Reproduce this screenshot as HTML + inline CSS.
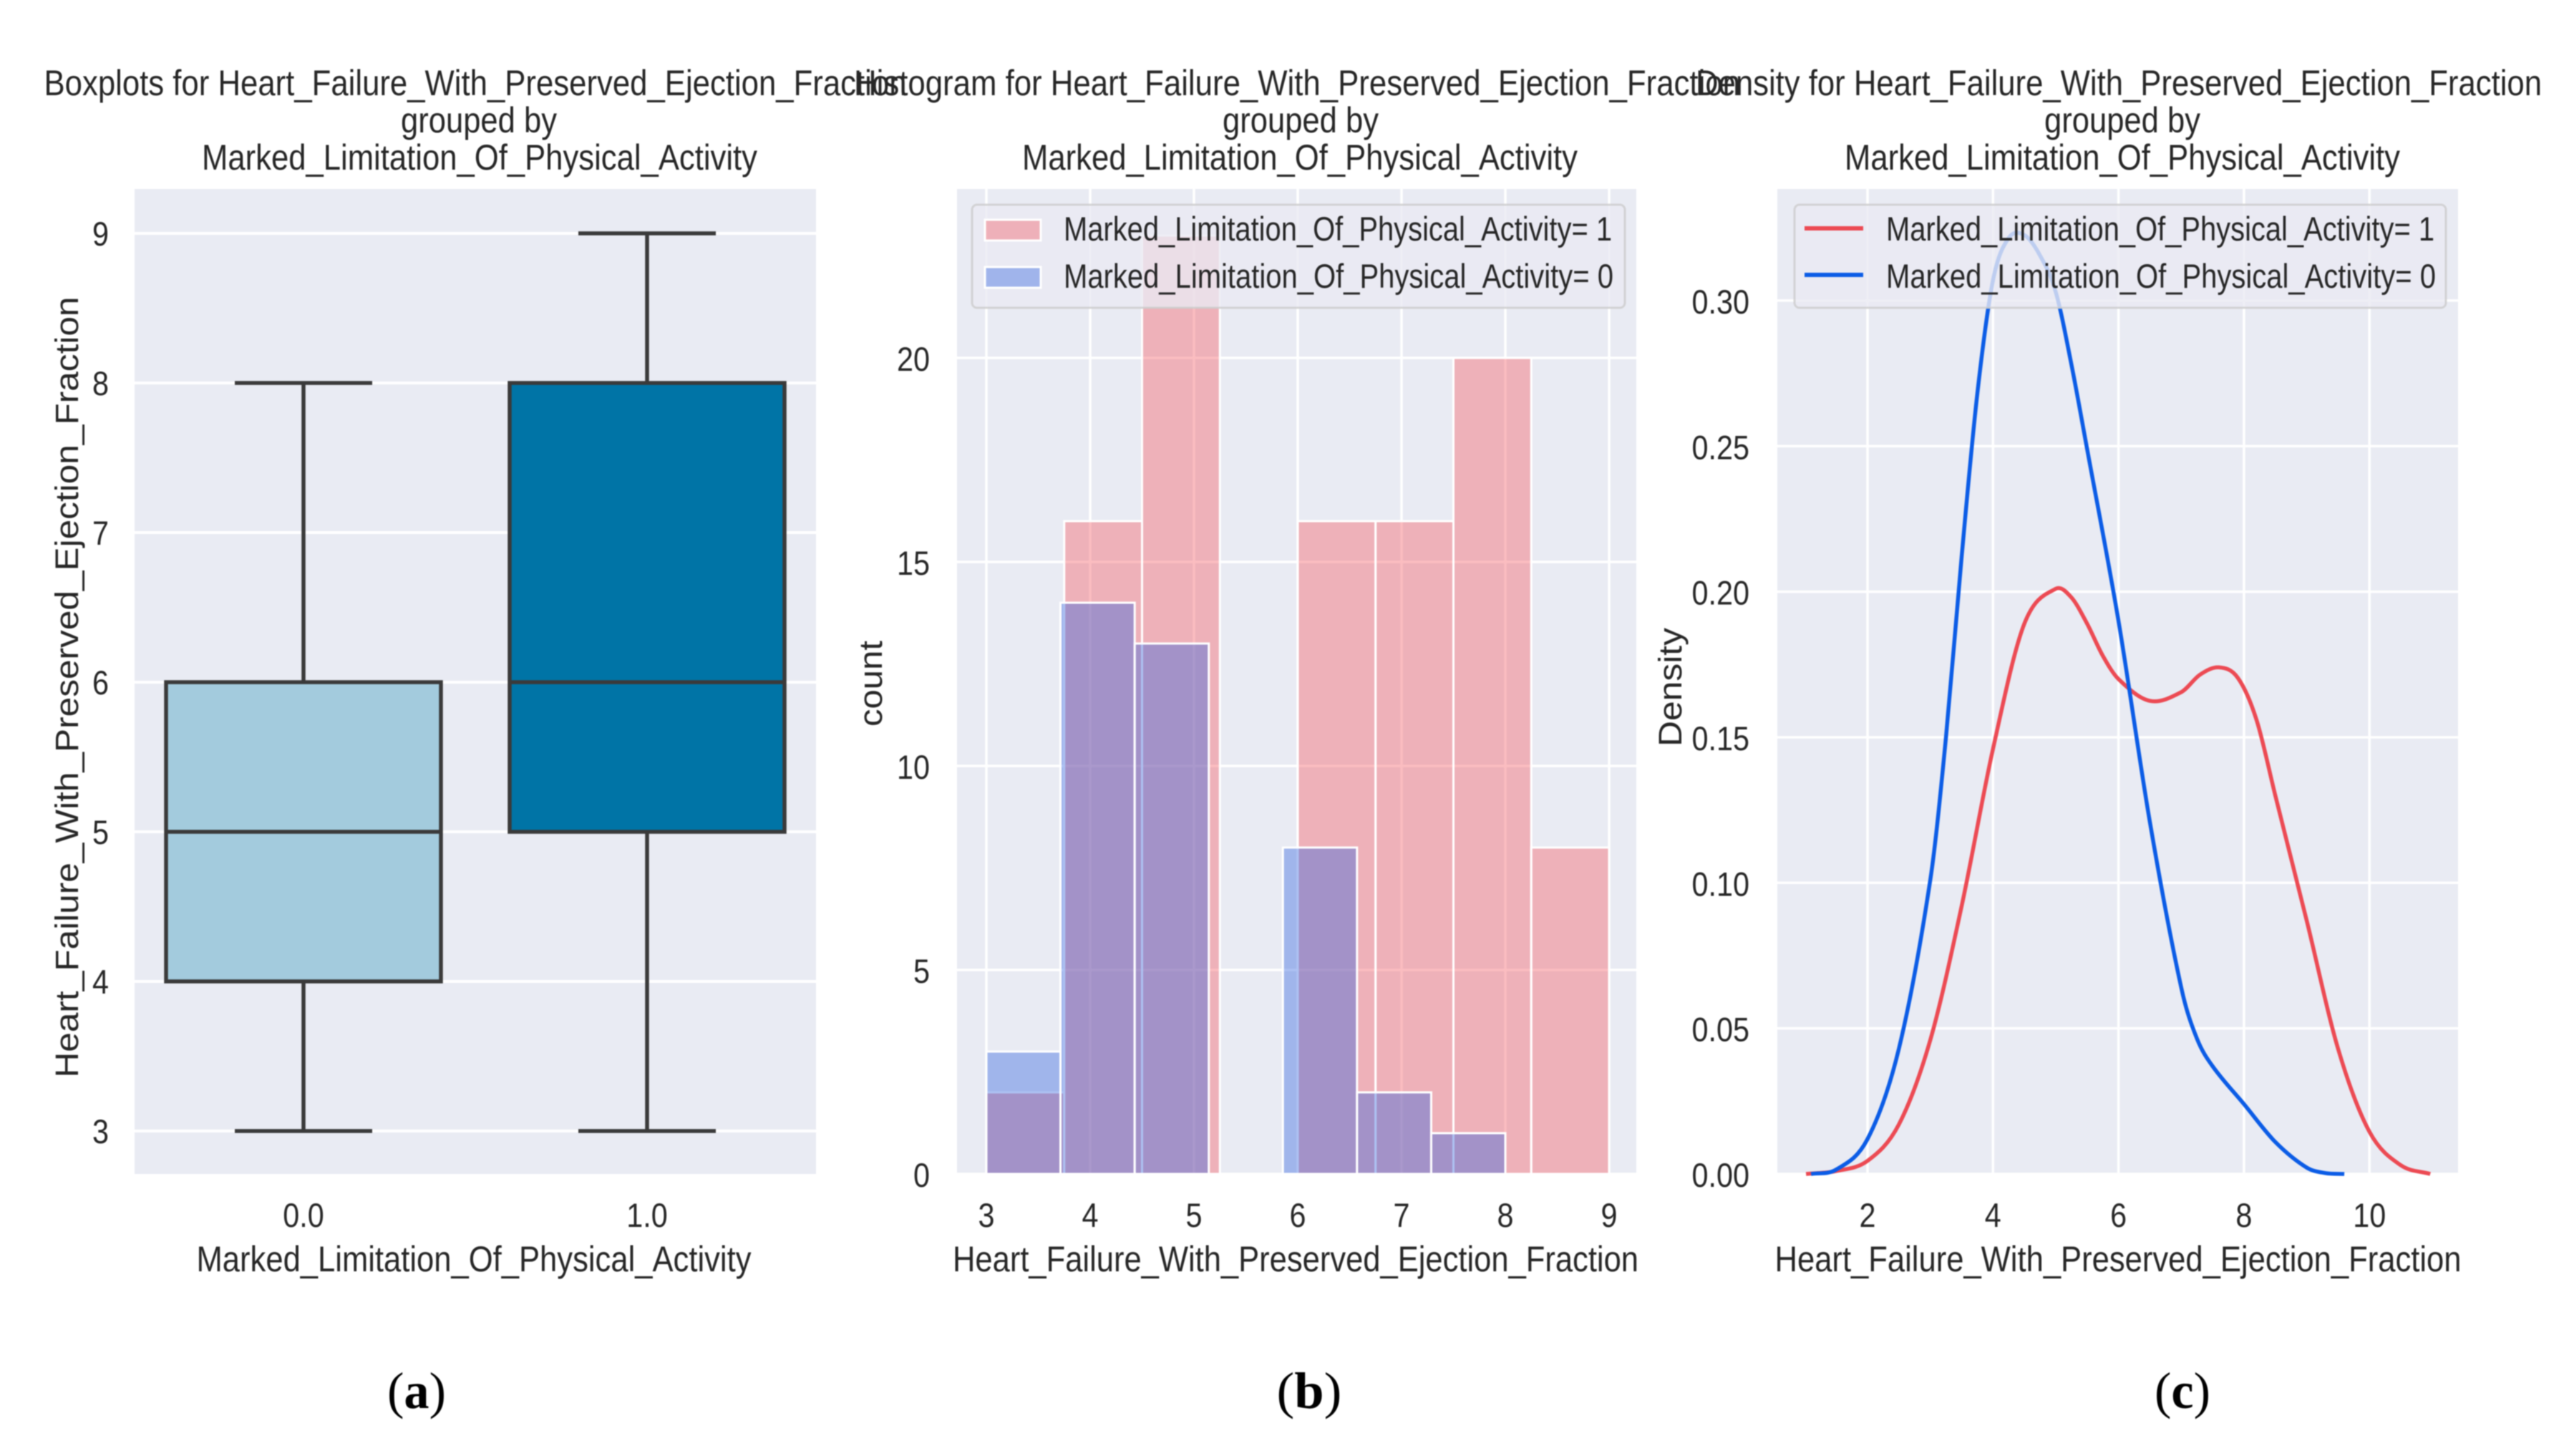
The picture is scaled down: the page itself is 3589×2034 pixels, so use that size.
<!DOCTYPE html>
<html lang="en">
<head>
<meta charset="utf-8">
<title>Heart failure charts grouped by marked limitation of physical activity</title>
<style>
html,body{margin:0;padding:0;background:#fff;width:3589px;height:2034px;overflow:hidden}
svg{display:block;filter:blur(0.8px)}
text{font-family:"Liberation Sans",sans-serif;fill:#262626}
.cap{font-family:"Liberation Serif",serif;fill:#000}
</style>
</head>
<body>
<svg id="figure" xmlns="http://www.w3.org/2000/svg" width="3589" height="2034" viewBox="0 0 3589 2034">
  <rect width="3589" height="2034" fill="#fff"/>

  <g font-size="50" text-anchor="middle">
    <text x="664" y="133" textLength="1205" lengthAdjust="spacingAndGlyphs">Boxplots for Heart_Failure_With_Preserved_Ejection_Fraction</text>
    <text x="669" y="185" textLength="218" lengthAdjust="spacingAndGlyphs">grouped by</text>
    <text x="670" y="237" textLength="776" lengthAdjust="spacingAndGlyphs">Marked_Limitation_Of_Physical_Activity</text>
  </g>
  <g font-size="50" text-anchor="middle">
    <text x="1812" y="133" textLength="1238" lengthAdjust="spacingAndGlyphs">Histogram for Heart_Failure_With_Preserved_Ejection_Fraction</text>
    <text x="1817" y="185" textLength="218" lengthAdjust="spacingAndGlyphs">grouped by</text>
    <text x="1816" y="237" textLength="776" lengthAdjust="spacingAndGlyphs">Marked_Limitation_Of_Physical_Activity</text>
  </g>
  <g font-size="50" text-anchor="middle">
    <text x="2960" y="133" textLength="1182" lengthAdjust="spacingAndGlyphs">Density for Heart_Failure_With_Preserved_Ejection_Fraction</text>
    <text x="2965" y="185" textLength="218" lengthAdjust="spacingAndGlyphs">grouped by</text>
    <text x="2965" y="237" textLength="776" lengthAdjust="spacingAndGlyphs">Marked_Limitation_Of_Physical_Activity</text>
  </g>

  <rect x="188" y="264" width="952" height="1376" fill="#e9ebf3"/>
  <rect x="1337" y="264" width="949" height="1376" fill="#e9ebf3"/>
  <rect x="2483" y="264" width="951" height="1376" fill="#e9ebf3"/>
  <g id="box-layer"></g>
  <g id="hist-layer"></g>
  <g id="density-layer"></g>

  <g>
    <rect x="1358" y="286" width="912" height="144" rx="7" fill="#eaeaf2" fill-opacity="0.8" stroke="#cccccc" stroke-opacity="0.8" stroke-width="3"/>
    <rect x="1376" y="307" width="78" height="29" fill="#f45961" fill-opacity="0.4" stroke="#fff" stroke-width="3"/>
    <rect x="1376" y="373" width="78" height="29" fill="#3264de" fill-opacity="0.4" stroke="#fff" stroke-width="3"/>
    <text x="1486" y="336" font-size="47" textLength="766" lengthAdjust="spacingAndGlyphs">Marked_Limitation_Of_Physical_Activity= 1</text>
    <text x="1486" y="402" font-size="47" textLength="768" lengthAdjust="spacingAndGlyphs">Marked_Limitation_Of_Physical_Activity= 0</text>
  </g>
  <g>
    <rect x="2507" y="286" width="910" height="144" rx="7" fill="#eaeaf2" fill-opacity="0.8" stroke="#cccccc" stroke-opacity="0.8" stroke-width="3"/>
    <line x1="2521" x2="2603" y1="319" y2="319" stroke="#ec4a53" stroke-width="6"/>
    <line x1="2521" x2="2603" y1="384" y2="384" stroke="#0b5ce6" stroke-width="6"/>
    <text x="2635" y="336" font-size="47" textLength="766" lengthAdjust="spacingAndGlyphs">Marked_Limitation_Of_Physical_Activity= 1</text>
    <text x="2635" y="402" font-size="47" textLength="768" lengthAdjust="spacingAndGlyphs">Marked_Limitation_Of_Physical_Activity= 0</text>
  </g>

  <text x="662" y="1776" font-size="50" text-anchor="middle" textLength="775" lengthAdjust="spacingAndGlyphs">Marked_Limitation_Of_Physical_Activity</text>
  <text x="1810" y="1776" font-size="50" text-anchor="middle" textLength="958" lengthAdjust="spacingAndGlyphs">Heart_Failure_With_Preserved_Ejection_Fraction</text>
  <text x="2959" y="1776" font-size="50" text-anchor="middle" textLength="959" lengthAdjust="spacingAndGlyphs">Heart_Failure_With_Preserved_Ejection_Fraction</text>
  <text transform="translate(109,960) rotate(-90)" font-size="45" text-anchor="middle" textLength="1091" lengthAdjust="spacingAndGlyphs">Heart_Failure_With_Preserved_Ejection_Fraction</text>
  <text transform="translate(1232,955) rotate(-90)" font-size="45" text-anchor="middle" textLength="120" lengthAdjust="spacingAndGlyphs">count</text>
  <text transform="translate(2349,960) rotate(-90)" font-size="45" text-anchor="middle" textLength="166" lengthAdjust="spacingAndGlyphs">Density</text>

  <text class="cap" x="582" y="1967" font-size="72" text-anchor="middle" textLength="82" lengthAdjust="spacingAndGlyphs">(<tspan font-weight="bold">a</tspan>)</text>
  <text class="cap" x="1829" y="1967" font-size="72" text-anchor="middle" textLength="91" lengthAdjust="spacingAndGlyphs">(<tspan font-weight="bold">b</tspan>)</text>
  <text class="cap" x="3049" y="1967" font-size="72" text-anchor="middle" textLength="78" lengthAdjust="spacingAndGlyphs">(<tspan font-weight="bold">c</tspan>)</text>
</svg>
<script>
// Boxplot data
const boxCategories = ['0.0', '1.0'];
const boxWhiskerLow = [3, 3];
const boxQ1 = [4, 5];
const boxMedian = [5, 6];
const boxQ3 = [6, 8];
const boxWhiskerHigh = [8, 9];
const boxFills = ['#a3cbdd', '#0074a6'];
const boxYTicks = [3, 4, 5, 6, 7, 8, 9];

// Histogram data
const histXTicks = [3, 4, 5, 6, 7, 8, 9];
const histYTicks = [0, 5, 10, 15, 20];
const histEdgesActivity1 = [3, 3.75, 4.5, 5.25, 6, 6.75, 7.5, 8.25, 9];
const histCountsActivity1 = [2, 16, 23, 0, 16, 16, 20, 8];
const histEdgesActivity0 = [3, 3.714, 4.429, 5.143, 5.857, 6.571, 7.286, 8];
const histCountsActivity0 = [3, 14, 13, 0, 8, 2, 1];

// Density data
const densityXTicks = [2, 4, 6, 8, 10];
const densityYTicks = ['0.00', '0.05', '0.10', '0.15', '0.20', '0.25', '0.30'];
const densityXActivity1 = [1.02, 1.5, 2, 2.5, 3, 3.5, 4, 4.5, 5, 5.25, 5.5, 5.75, 6, 6.5, 7, 7.3, 7.6, 7.9, 8.2, 8.5, 9, 9.5, 10, 10.5, 10.97];
const densityYActivity1 = [0, 0.001, 0.0045, 0.017, 0.046, 0.092, 0.146, 0.189, 0.201, 0.198, 0.189, 0.178, 0.17, 0.1625, 0.1655, 0.1715, 0.174, 0.1705, 0.156, 0.13, 0.087, 0.043, 0.0145, 0.003, 0];
const densityXActivity0 = [1.1, 1.5, 2, 2.5, 3, 3.25, 3.5, 3.75, 4, 4.25, 4.5, 4.75, 5, 5.25, 5.5, 6, 6.5, 7, 7.25, 7.5, 8, 8.5, 9, 9.3, 9.6];
const densityYActivity0 = [0, 0.0015, 0.012, 0.043, 0.101, 0.15, 0.212, 0.268, 0.307, 0.3215, 0.3225, 0.3155, 0.303, 0.278, 0.249, 0.19, 0.121, 0.064, 0.0465, 0.037, 0.024, 0.011, 0.0022, 0.0003, 0];

const SVG_NS = 'http://www.w3.org/2000/svg';
const PLOT_BOTTOM = 1640;
const PLOT_TOP = 264;

function make(parent, tag, attrs, content) {
  const el = document.createElementNS(SVG_NS, tag);
  Object.keys(attrs).forEach(function (k) { el.setAttribute(k, attrs[k]); });
  if (content !== undefined) el.textContent = content;
  parent.appendChild(el);
  return el;
}

function tickText(parent, x, y, label, anchor) {
  return make(parent, 'text', {
    transform: 'translate(' + x + ',' + y + ') scale(0.88,1)',
    'font-size': 47,
    'text-anchor': anchor
  }, label);
}

function slopeAt(points, i) {
  const a = points[Math.max(i - 1, 0)];
  const b = points[Math.min(i + 1, points.length - 1)];
  return (b[1] - a[1]) / (b[0] - a[0]);
}

function smoothPath(points) {
  let d = 'M' + points[0][0].toFixed(1) + ',' + points[0][1].toFixed(1);
  for (let i = 0; i < points.length - 1; i++) {
    const p1 = points[i];
    const p2 = points[i + 1];
    const dx = p2[0] - p1[0];
    const c1x = p1[0] + dx / 3;
    const c1y = p1[1] + slopeAt(points, i) * dx / 3;
    const c2x = p2[0] - dx / 3;
    const c2y = p2[1] - slopeAt(points, i + 1) * dx / 3;
    d += 'C' + c1x.toFixed(1) + ',' + c1y.toFixed(1) + ' ' + c2x.toFixed(1) + ',' + c2y.toFixed(1) + ' ' + p2[0].toFixed(1) + ',' + p2[1].toFixed(1);
  }
  return d;
}

/* ---------- Boxplot ---------- */
const boxLayer = document.getElementById('box-layer');
const boxX = function (v) { return 424 + 480 * v; };
const boxY = function (v) { return 1580 - 209 * (v - 3); };

boxYTicks.forEach(function (t) {
  const grid = make(boxLayer, 'line', { x1: 188, x2: 1140, y1: boxY(t), y2: boxY(t), stroke: '#fff', 'stroke-width': 4 });
  
  
  const label = tickText(boxLayer, 152, boxY(t) + 17, String(t), 'end');
  
  
});

boxCategories.forEach(function (cat, i) {
  const cx = boxX(i);
  const halfBox = 0.4 * 480;
  const halfCap = 0.2 * 480;
  const stroke = { stroke: '#3a3a3a', 'stroke-width': 5.5 };
  const lowWhisker = make(boxLayer, 'line', Object.assign({ x1: cx, x2: cx, y1: boxY(boxWhiskerLow[i]), y2: boxY(boxQ1[i]) }, stroke));
  
  
  const highWhisker = make(boxLayer, 'line', Object.assign({ x1: cx, x2: cx, y1: boxY(boxQ3[i]), y2: boxY(boxWhiskerHigh[i]) }, stroke));
  
  
  const lowCap = make(boxLayer, 'line', Object.assign({ x1: cx - halfCap, x2: cx + halfCap, y1: boxY(boxWhiskerLow[i]), y2: boxY(boxWhiskerLow[i]) }, stroke));
  
  
  const highCap = make(boxLayer, 'line', Object.assign({ x1: cx - halfCap, x2: cx + halfCap, y1: boxY(boxWhiskerHigh[i]), y2: boxY(boxWhiskerHigh[i]) }, stroke));
  
  
  const box = make(boxLayer, 'rect', Object.assign({ x: cx - halfBox, y: boxY(boxQ3[i]), width: 2 * halfBox, height: boxY(boxQ1[i]) - boxY(boxQ3[i]), fill: boxFills[i] }, stroke));
  
  
  const median = make(boxLayer, 'line', Object.assign({ x1: cx - halfBox, x2: cx + halfBox, y1: boxY(boxMedian[i]), y2: boxY(boxMedian[i]) }, stroke));
  
  
  const label = tickText(boxLayer, cx, 1714, cat, 'middle');
  
  
});

/* ---------- Histogram ---------- */
const histLayer = document.getElementById('hist-layer');
const histX = function (v) { return 1378 + 145 * (v - 3); };
const histY = function (v) { return PLOT_BOTTOM - 57 * v; };

histXTicks.forEach(function (t) {
  const grid = make(histLayer, 'line', { x1: histX(t), x2: histX(t), y1: PLOT_TOP, y2: PLOT_BOTTOM, stroke: '#fff', 'stroke-width': 3.5 });
  
  
  const label = tickText(histLayer, histX(t), 1714, String(t), 'middle');
  
  
});
histYTicks.forEach(function (t) {
  const grid = make(histLayer, 'line', { x1: 1337, x2: 2286, y1: histY(t), y2: histY(t), stroke: '#fff', 'stroke-width': 3.5 });
  
  
  const label = tickText(histLayer, 1299, histY(t) + 18, String(t), 'end');
  
  
});

histCountsActivity1.forEach(function (c, i) {
  if (c === 0) return;
  const bar = make(histLayer, 'rect', {
    x: histX(histEdgesActivity1[i]),
    y: histY(c),
    width: histX(histEdgesActivity1[i + 1]) - histX(histEdgesActivity1[i]),
    height: histY(0) - histY(c),
    fill: '#f45961',
    'fill-opacity': 0.4,
    stroke: '#fff',
    'stroke-width': 3
  });
  
  
});
histCountsActivity0.forEach(function (c, i) {
  if (c === 0) return;
  const bar = make(histLayer, 'rect', {
    x: histX(histEdgesActivity0[i]),
    y: histY(c),
    width: histX(histEdgesActivity0[i + 1]) - histX(histEdgesActivity0[i]),
    height: histY(0) - histY(c),
    fill: '#3264de',
    'fill-opacity': 0.4,
    stroke: '#fff',
    'stroke-width': 3
  });
  
  
});

/* ---------- Density ---------- */
const densityLayer = document.getElementById('density-layer');
const densX = function (v) { return 2609 + 87.65 * (v - 2); };
const densY = function (v) { return PLOT_BOTTOM - 4067 * v; };

densityXTicks.forEach(function (t) {
  const grid = make(densityLayer, 'line', { x1: densX(t), x2: densX(t), y1: PLOT_TOP, y2: PLOT_BOTTOM, stroke: '#fff', 'stroke-width': 3.5 });
  
  
  const label = tickText(densityLayer, densX(t), 1714, String(t), 'middle');
  
  
});
densityYTicks.forEach(function (t) {
  const v = parseFloat(t);
  const grid = make(densityLayer, 'line', { x1: 2483, x2: 3434, y1: densY(v), y2: densY(v), stroke: '#fff', 'stroke-width': 3.5 });
  
  
  const label = tickText(densityLayer, 2444, densY(v) + 18, t, 'end');
  
  
});

const pointsActivity1 = densityXActivity1.map(function (x, i) { return [densX(x), densY(densityYActivity1[i])]; });
const curveActivity1 = make(densityLayer, 'path', { d: smoothPath(pointsActivity1), fill: 'none', stroke: '#ec4a53', 'stroke-width': 5.5, 'stroke-linejoin': 'round' });



const pointsActivity0 = densityXActivity0.map(function (x, i) { return [densX(x), densY(densityYActivity0[i])]; });
const curveActivity0 = make(densityLayer, 'path', { d: smoothPath(pointsActivity0), fill: 'none', stroke: '#0b5ce6', 'stroke-width': 5.5, 'stroke-linejoin': 'round' });


</script>
</body>
</html>
